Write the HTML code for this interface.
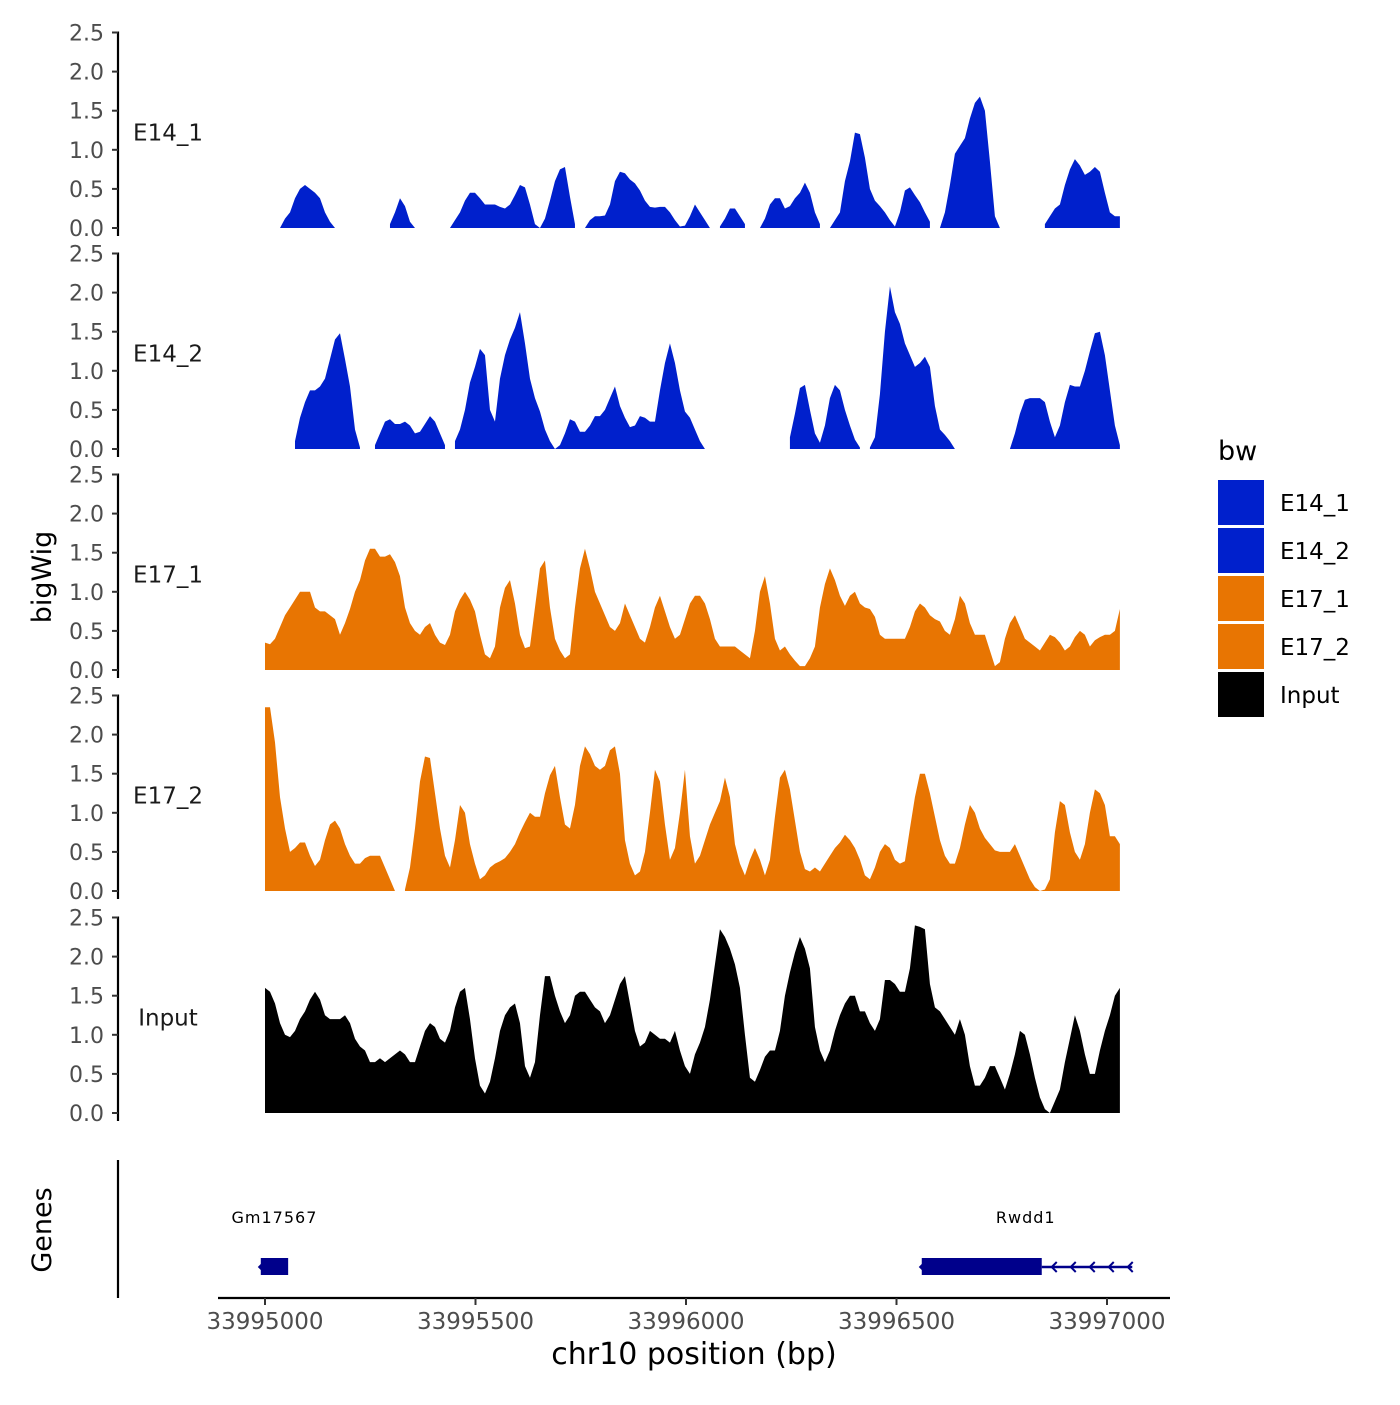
<!DOCTYPE html>
<html><head><meta charset="utf-8"><style>
html,body{margin:0;padding:0;background:#fff}
svg text{font-family:"DejaVu Sans","Liberation Sans",sans-serif}
</style></head><body>
<svg id="chart" width="1400" height="1400" viewBox="0 0 1400 1400" xmlns="http://www.w3.org/2000/svg">
<rect width="1400" height="1400" fill="#fff"/>
<g id="tracks"></g>
<g id="axes"></g>
<text x="51" y="577" font-size="27" text-anchor="middle" transform="rotate(-90 51 577)">bigWig</text>
<text x="51" y="1230" font-size="27" text-anchor="middle" transform="rotate(-90 51 1230)">Genes</text>
<text x="694" y="1364" font-size="30" text-anchor="middle">chr10 position (bp)</text>
<g id="legend"></g>
<g id="genes"></g>
</svg>
<script>
const n = null;
const trackNames = ["E14_1","E14_2","E17_1","E17_2","Input"];
const trackColors = ["#0020CC","#0020CC","#E87502","#E87502","#000000"];
const binStart = 33995000;
const binSize = 11.875;
const yTicks = [0,0.5,1,1.5,2,2.5];
const yTickLabels = ["0.0","0.5","1.0","1.5","2.0","2.5"];
const xTicks = [33995000,33995500,33996000,33996500,33997000];
const xTickLabels = ["33995000","33995500","33996000","33996500","33997000"];
const E14_1 = [n,n,n,0,0.12,0.2,0.38,0.5,0.55,0.5,
0.45,0.38,0.2,0.08,0,n,n,n,n,n,
n,n,n,n,n,0.05,0.2,0.38,0.28,0.08,
0,n,n,n,n,n,n,0,0.1,0.2,
0.35,0.45,0.45,0.38,0.3,0.3,0.3,0.27,0.25,0.3,
0.42,0.55,0.52,0.3,0.05,0,0.12,0.35,0.6,0.75,
0.78,0.4,0.05,n,0,0.1,0.15,0.15,0.16,0.3,
0.6,0.72,0.7,0.62,0.57,0.48,0.35,0.27,0.26,0.27,
0.27,0.2,0.1,0.02,0.03,0.15,0.3,0.2,0.1,0,
n,0.02,0.12,0.25,0.25,0.15,0.05,n,n,0,
0.12,0.3,0.38,0.38,0.25,0.28,0.38,0.45,0.58,0.45,
0.2,0.05,n,0,0.1,0.2,0.6,0.85,1.22,1.2,
0.9,0.5,0.35,0.28,0.2,0.1,0.02,0.2,0.48,0.52,
0.42,0.33,0.2,0.08,n,0,0.2,0.55,0.95,1.05,
1.15,1.4,1.6,1.68,1.5,0.85,0.15,0,n,n,
n,n,n,n,n,n,0.05,0.15,0.25,0.3,
0.55,0.75,0.88,0.8,0.68,0.72,0.78,0.72,0.45,0.2,
0.15,0.15,n];
const E14_2 = [n,n,n,n,n,n,0.1,0.4,0.6,0.75,
0.75,0.8,0.9,1.15,1.4,1.48,1.15,0.8,0.25,0.02,
n,n,0.05,0.2,0.35,0.38,0.32,0.32,0.35,0.3,
0.2,0.22,0.32,0.42,0.35,0.2,0.05,n,0.1,0.25,
0.5,0.85,1.05,1.28,1.2,0.5,0.35,0.9,1.2,1.4,
1.55,1.75,1.35,0.9,0.65,0.48,0.25,0.1,0,0.05,
0.2,0.38,0.35,0.22,0.22,0.3,0.42,0.42,0.5,0.65,
0.8,0.55,0.4,0.28,0.3,0.42,0.4,0.35,0.35,0.75,
1.1,1.35,1.1,0.75,0.48,0.4,0.25,0.1,0,n,
n,n,n,n,n,n,n,n,n,n,
n,n,n,n,n,0.15,0.45,0.78,0.82,0.5,
0.2,0.08,0.3,0.65,0.82,0.75,0.5,0.3,0.12,0.02,
n,0.02,0.15,0.7,1.5,2.08,1.75,1.6,1.35,1.2,
1.05,1.1,1.18,1.05,0.55,0.25,0.18,0.1,0,n,
n,n,n,n,n,n,n,n,n,0,
0.2,0.45,0.63,0.65,0.65,0.65,0.6,0.35,0.15,0.3,
0.6,0.82,0.8,0.8,1.0,1.25,1.48,1.5,1.2,0.75,
0.3,0.05,n];
const E17_1 = [0.35,0.33,0.4,0.55,0.7,0.8,0.9,1.0,1.0,1.0,
0.8,0.75,0.75,0.7,0.65,0.45,0.6,0.78,1.0,1.15,
1.4,1.55,1.55,1.45,1.45,1.48,1.38,1.2,0.8,0.6,
0.5,0.45,0.55,0.6,0.45,0.35,0.32,0.45,0.75,0.9,
1.0,0.9,0.75,0.45,0.2,0.15,0.3,0.8,1.05,1.15,
0.85,0.45,0.28,0.3,0.8,1.3,1.4,0.8,0.4,0.25,
0.15,0.2,0.8,1.3,1.55,1.3,1.0,0.85,0.7,0.55,
0.5,0.6,0.85,0.7,0.55,0.4,0.35,0.55,0.8,0.95,
0.75,0.55,0.4,0.45,0.65,0.85,0.95,0.95,0.85,0.65,
0.4,0.3,0.3,0.3,0.3,0.25,0.2,0.15,0.5,1.0,
1.2,0.85,0.4,0.25,0.3,0.2,0.12,0.05,0.05,0.15,
0.3,0.8,1.1,1.3,1.15,0.95,0.82,0.95,1.0,0.85,
0.8,0.78,0.68,0.45,0.4,0.4,0.4,0.4,0.4,0.55,
0.75,0.85,0.8,0.7,0.65,0.62,0.5,0.45,0.65,0.95,
0.85,0.6,0.45,0.45,0.45,0.25,0.05,0.1,0.4,0.6,
0.7,0.55,0.4,0.35,0.3,0.25,0.35,0.45,0.42,0.35,
0.25,0.3,0.42,0.5,0.45,0.3,0.38,0.42,0.45,0.45,
0.5,0.78,n];
const E17_2 = [2.35,2.35,1.9,1.2,0.8,0.5,0.55,0.62,0.62,0.45,
0.32,0.4,0.65,0.85,0.9,0.8,0.6,0.45,0.35,0.35,
0.42,0.45,0.45,0.45,0.3,0.15,0.0,n,0.02,0.3,
0.8,1.4,1.72,1.7,1.25,0.8,0.45,0.3,0.65,1.1,
1.0,0.6,0.35,0.15,0.2,0.3,0.35,0.38,0.42,0.5,
0.6,0.75,0.88,1.0,0.95,0.95,1.25,1.48,1.6,1.2,
0.85,0.8,1.1,1.6,1.85,1.75,1.6,1.55,1.6,1.8,
1.85,1.5,0.65,0.35,0.2,0.25,0.5,1.0,1.55,1.4,
0.85,0.4,0.55,1.0,1.55,0.7,0.35,0.45,0.65,0.85,
1.0,1.15,1.45,1.2,0.6,0.35,0.2,0.4,0.55,0.4,
0.2,0.4,0.95,1.45,1.55,1.3,0.9,0.5,0.28,0.25,
0.3,0.25,0.35,0.45,0.55,0.62,0.72,0.65,0.55,0.4,
0.2,0.15,0.3,0.5,0.6,0.55,0.4,0.35,0.38,0.8,
1.2,1.5,1.5,1.25,0.95,0.65,0.45,0.35,0.35,0.55,
0.85,1.1,1.0,0.8,0.68,0.6,0.52,0.5,0.5,0.5,
0.6,0.45,0.3,0.15,0.05,0.0,0.02,0.15,0.75,1.15,
1.1,0.75,0.5,0.4,0.6,1.0,1.3,1.25,1.1,0.7,
0.7,0.6,n];
const Input = [1.6,1.55,1.4,1.15,1.0,0.97,1.05,1.2,1.3,1.45,
1.55,1.45,1.25,1.2,1.2,1.2,1.25,1.15,0.95,0.85,
0.8,0.65,0.65,0.7,0.65,0.7,0.75,0.8,0.75,0.65,
0.65,0.85,1.05,1.15,1.1,0.95,0.9,1.05,1.35,1.55,
1.6,1.2,0.7,0.35,0.25,0.4,0.7,1.05,1.25,1.35,
1.4,1.15,0.6,0.45,0.65,1.25,1.75,1.75,1.5,1.3,
1.15,1.25,1.5,1.55,1.55,1.45,1.35,1.3,1.15,1.25,
1.45,1.65,1.75,1.4,1.05,0.85,0.9,1.05,1.0,0.95,
0.95,0.9,1.05,0.8,0.6,0.5,0.75,0.9,1.1,1.45,
1.9,2.35,2.25,2.1,1.9,1.6,1.0,0.45,0.4,0.55,
0.72,0.8,0.8,1.05,1.5,1.8,2.05,2.25,2.1,1.85,
1.1,0.8,0.65,0.8,1.05,1.25,1.4,1.5,1.5,1.3,
1.3,1.15,1.05,1.2,1.7,1.7,1.65,1.55,1.55,1.85,
2.4,2.38,2.35,1.65,1.35,1.3,1.2,1.1,1.0,1.2,
1.0,0.6,0.35,0.35,0.45,0.6,0.6,0.45,0.3,0.5,
0.75,1.05,1.0,0.75,0.45,0.2,0.05,0.0,0.15,0.3,
0.65,0.95,1.25,1.05,0.75,0.5,0.5,0.8,1.05,1.25,
1.5,1.6,n];
const geneNames = ["Gm17567","Rwdd1"];
const geneStarts = [33994990,33996560];
const geneEnds = [33995055,33996845];
const geneLineEnds = [33995055,33997060];

const seriesData = [E14_1,E14_2,E17_1,E17_2,Input];
const NS = "http://www.w3.org/2000/svg";
function xScale(bp){ return 265 + (bp - 33995000) * (842/2000); }
const panelBase = [228,449,670,891,1113];
const unitPx = 78.2;
function yScale(p, v){ return panelBase[p] - v * unitPx; }
function mk(tag, attrs, parent){ const e=document.createElementNS(NS,tag); for(const k in attrs) e.setAttribute(k,attrs[k]); parent.appendChild(e); return e; }

const tracks = document.getElementById('tracks');
const axes = document.getElementById('axes');
seriesData.forEach((vals, p) => {
  const g = mk('g', {}, tracks);
  
  
  let seg = [];
  const flush = () => {
    if (seg.length) {
      const x0 = xScale(seg[0][0]), x1 = xScale(seg[seg.length-1][0]);
      let d = 'M' + x0 + ',' + panelBase[p];
      seg.forEach(s => { d += 'L' + xScale(s[0]).toFixed(2) + ',' + yScale(p, s[1]).toFixed(2); });
      d += 'L' + x1 + ',' + panelBase[p] + 'Z';
      const path = mk('path', {d: d, fill: trackColors[p]}, g);
      
      
    }
    seg = [];
  };
  vals.forEach((v, i) => {
    if (v === null) flush(); else seg.push([binStart + i * binSize, v]);
  });
  flush();
  const ya = mk('g', {}, axes);
  
  
  mk('line', {x1:118, x2:118, y1: yScale(p, 2.5)-1, y2: panelBase[p]+8, stroke:'#000', 'stroke-width':2.2}, ya);
  yTicks.forEach((t, k) => {
    const y = yScale(p, t);
    mk('line', {x1:112, x2:118, y1:y, y2:y, stroke:'#333', 'stroke-width':2}, ya);
    const tx = mk('text', {x:104, y:y+8, 'font-size':22, 'text-anchor':'end', fill:'#4d4d4d'}, ya);
    tx.textContent = yTickLabels[k];
    
    
  });
  const lab = mk('text', {x:168, y:(yScale(p,2.5)+panelBase[p])/2 + 10, 'font-size':23, 'text-anchor':'middle', fill:'#1a1a1a'}, ya);
  lab.textContent = trackNames[p];
  
  
});

mk('line', {x1:118, x2:118, y1:1160, y2:1298, stroke:'#000', 'stroke-width':2.2}, axes);
mk('line', {x1:218, x2:1170, y1:1298, y2:1298, stroke:'#000', 'stroke-width':2.2}, axes);
xTicks.forEach((t, k) => {
  const x = xScale(t);
  mk('line', {x1:x, x2:x, y1:1298, y2:1305, stroke:'#333', 'stroke-width':2}, axes);
  const tx = mk('text', {x:x, y:1329, 'font-size':23, 'text-anchor':'middle', fill:'#4d4d4d'}, axes);
  tx.textContent = xTickLabels[k];
  
  
});

const genes = document.getElementById('genes');
geneNames.forEach((name, i) => {
  const g = mk('g', {}, genes);
  
  
  const x0 = xScale(geneStarts[i]), x1 = xScale(geneEnds[i]), xl = xScale(geneLineEnds[i]);
  if (xl > x1) {
    mk('line', {x1:x1, x2:xl, y1:1267, y2:1267, stroke:'#00008B', 'stroke-width':2.5}, g);
    for (let ax = x1 + 10; ax < xl; ax += 19) {
      mk('polyline', {points:(ax+5)+',1262 '+ax+',1267 '+(ax+5)+',1272', fill:'none', stroke:'#00008B', 'stroke-width':2}, g);
    }
  }
  mk('rect', {x:x0, y:1258, width:x1-x0, height:17, fill:'#00008B'}, g);
  mk('polygon', {points:(x0-3)+',1267 '+(x0+2)+',1262 '+(x0+2)+',1272', fill:'#00008B'}, g);
  const t = mk('text', {x:(x0+x1)/2 + (i===1?44:0), y:1223, 'font-size':16, 'text-anchor':'middle', fill:'#000', 'letter-spacing':'1'}, g);
  t.textContent = name;
  
  
});

const legend = document.getElementById('legend');
const lt = mk('text', {x:1218, y:460, 'font-size':27, fill:'#000'}, legend);
lt.textContent = 'bw';


trackNames.forEach((name, i) => {
  const y = 480 + i * 48;
  const r = mk('rect', {x:1218, y:y, width:46, height:45, fill:trackColors[i]}, legend);
  
  
  const t = mk('text', {x:1280, y:y+31, 'font-size':23, fill:'#000'}, legend);
  t.textContent = name;
  
  
});
</script>
</body></html>
